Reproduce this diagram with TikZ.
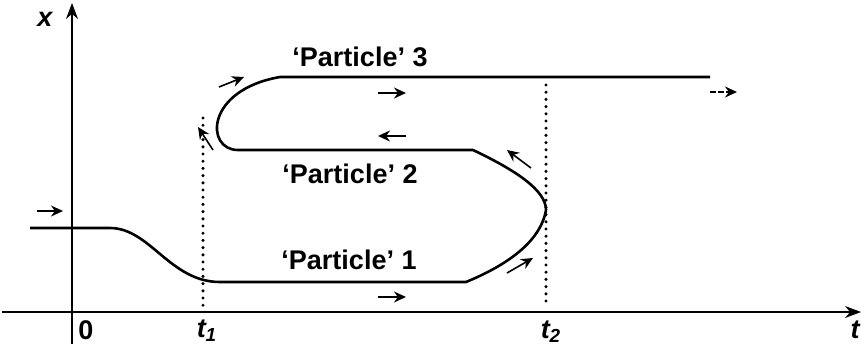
\documentclass[tikz,border=0pt]{standalone}
\usepackage{fontspec}
\setmainfont{Liberation Sans}
\usetikzlibrary{arrows.meta}

\begin{document}
\begin{tikzpicture}[x=0.5pt,y=-0.5pt,
  axis/.style={line width=0.6pt,-{Stealth[length=8pt,width=6pt]}},
  track/.style={line width=1.3pt,line join=round},
  flow/.style={line width=0.8pt,-{Stealth[length=6pt,width=5.5pt]}},
  guide/.style={line width=1.7pt,line cap=round,dash pattern=on 0pt off 3.6pt},
  lab/.style={font=\fontsize{13.5}{16}\selectfont\bfseries}]
\useasboundingbox (0,0) rectangle (861,349);
% axes
\draw[axis] (2,312) -- (861,312);
\draw[axis] (72,344) -- (72,3);
\node[lab] (xlab) at (45,19) {\itshape x};
\node[lab] (tlab) at (855,330) {\itshape t};
\node[lab] (zero) at (86,330) {0};
\node[lab] (tone) at (207,331) {\itshape t\textsubscript{1}};
\node[lab] (ttwo) at (551,332) {\itshape t\textsubscript{2}};
% time marks
\draw[guide] (203,118) -- (203,307);
\draw[guide] (546,85) -- (546,302);
% the single trajectory
\coordinate (start) at (30,228);
\coordinate (stop) at (710,77);
\draw[track] (start) -- (110,228) .. controls (150,228) and (170,282) .. (220,282)
  -- (466,282) .. controls (500,268) and (540,245) .. (546,210)
  .. controls (546,190) and (515,170) .. (473,150)
  -- (238,150) .. controls (205,150) and (205,90) .. (280,77) -- (stop);
\node[lab] (p3) at (360,57) {`Particle' 3};
\node[lab] (p2) at (350,174) {`Particle' 2};
\node[lab] (p1) at (349,260) {`Particle' 1};
% directions
\draw[flow] (37,211) -- (63,211);
\draw[flow] (219,87) -- (244,77);
\draw[flow] (378,93) -- (406,93);
\draw[flow] (406,136) -- (378,136);
\draw[flow] (213,150) -- (198,127);
\draw[flow] (531,168) -- (507,150);
\draw[flow] (507,273) -- (533,258);
\draw[flow] (378,297) -- (406,297);
\draw[flow,dash pattern=on 3pt off 1pt] (710,92) -- (737,92);
\end{tikzpicture}
\end{document}
